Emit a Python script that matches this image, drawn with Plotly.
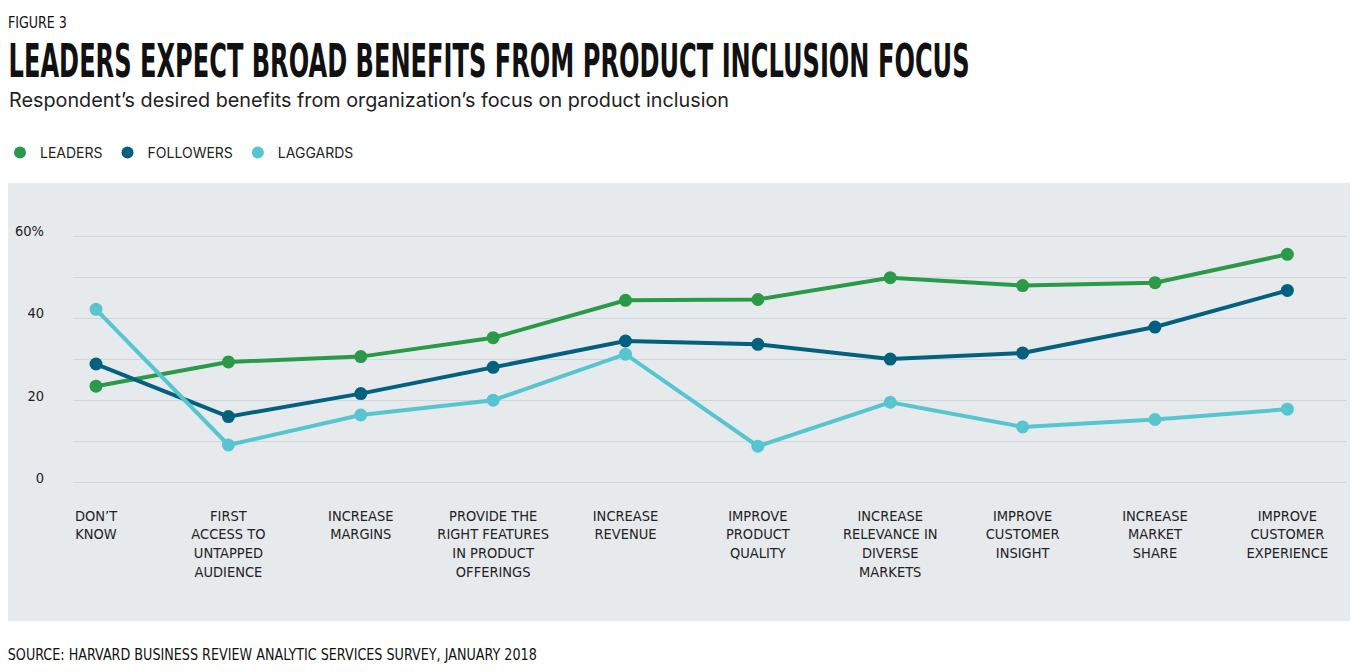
import plotly.graph_objects as go

categories = [
    "DON’T<br>KNOW",
    "FIRST<br>ACCESS TO<br>UNTAPPED<br>AUDIENCE",
    "INCREASE<br>MARGINS",
    "PROVIDE THE<br>RIGHT FEATURES<br>IN PRODUCT<br>OFFERINGS",
    "INCREASE<br>REVENUE",
    "IMPROVE<br>PRODUCT<br>QUALITY",
    "INCREASE<br>RELEVANCE IN<br>DIVERSE<br>MARKETS",
    "IMPROVE<br>CUSTOMER<br>INSIGHT",
    "INCREASE<br>MARKET<br>SHARE",
    "IMPROVE<br>CUSTOMER<br>EXPERIENCE",
]
leaders = [23.5, 29.4, 30.7, 35.3, 44.4, 44.6, 49.9, 48.0, 48.7, 55.6]
followers = [28.9, 16.1, 21.7, 28.1, 34.5, 33.7, 30.1, 31.6, 37.9, 46.8]
laggards = [42.2, 9.2, 16.5, 20.1, 31.3, 8.9, 19.6, 13.6, 15.4, 17.9]
series_names = ["LEADERS", "FOLLOWERS", "LAGGARDS"]
y_tickvals = [0, 10, 20, 30, 40, 50, 60]
y_ticktext = ["0", "", "20", "", "40", "", "60%"]

TITLE = "LEADERS EXPECT BROAD BENEFITS FROM PRODUCT INCLUSION FOCUS"
SUBTITLE = "Respondent’s desired benefits from organization’s focus on product inclusion"
FIGNUM = "FIGURE 3"
SOURCE = "SOURCE: HARVARD BUSINESS REVIEW ANALYTIC SERVICES SURVEY, JANUARY 2018"

colors = ["#2a9a48", "#03607f", "#57c5cf"]

W, H = 1360, 672
L, R = 73, 1346          # plot area pixel edges
T, B = 227.8, 490.9

COND = "DejaVu Sans Condensed, Liberation Sans Narrow, sans-serif"
GROT = "Inter, Open Sans, sans-serif"

def px(x):
    return (x - L) / (R - L)

def py(y):
    return (B - y) / (B - T)

fig = go.Figure()
xs = list(range(len(categories)))
for name, vals, c in zip(series_names, [leaders, followers, laggards], colors):
    fig.add_trace(go.Scatter(
        x=xs, y=vals, mode="lines+markers", name=name,
        line=dict(color=c, width=4), marker=dict(color=c, size=13),
        showlegend=False, cliponaxis=False, hoverinfo="y",
    ))
for name, c in zip(series_names, colors):
    fig.add_trace(go.Scatter(
        x=[None], y=[None], mode="markers", name=name,
        marker=dict(color=c, size=15), showlegend=True,
    ))

# (text, left px, width px, center y px, font size, family, weight, vertical stretch)
squeezed = [
    (FIGNUM, 8, 59, 23, 15, COND, "normal", 1.0),
    (TITLE, 8, 961, 61, 37, COND, "bold", 1.27),
    (SOURCE, 8, 529, 655, 15.5, COND, "normal", 1.0),
]

annotations = []
for text, x0, w, yc, size, fam, wt, _ in squeezed:
    annotations.append(dict(
        text=text, xref="paper", yref="paper", x=px(x0 + w / 2), y=py(yc),
        xanchor="center", yanchor="middle", showarrow=False,
        font=dict(family=fam, size=size, color="#111", weight=wt),
    ))
annotations.append(dict(
    text=SUBTITLE, xref="paper", yref="paper", x=px(7), y=py(100),
    xanchor="left", yanchor="middle", showarrow=False,
    font=dict(family=GROT, size=19.8, color="#222"),
))

fig.update_layout(
    width=W, height=H,
    margin=dict(l=L, r=W - R, t=T, b=H - B, pad=0),
    paper_bgcolor="white", plot_bgcolor="rgba(0,0,0,0)",
    showlegend=True,
    legend=dict(
        orientation="h", xref="container", yref="container",
        x=-0.003, y=1 - 153 / H, xanchor="left", yanchor="middle",
        font=dict(family=GROT, size=14, color="#222"),
        itemsizing="constant", bgcolor="rgba(0,0,0,0)",
    ),
    xaxis=dict(
        range=[-0.174, 9.443], tickmode="array", tickvals=xs, ticktext=categories,
        showgrid=False, zeroline=False, showline=False, ticks="",
        tickfont=dict(family=COND, size=14.5, color="#222"),
        ticklabelstandoff=14, fixedrange=True,
    ),
    yaxis=dict(
        range=[-2, 62], tickmode="array", tickvals=y_tickvals, ticktext=y_ticktext,
        showgrid=True, gridcolor="#d2d5d9", gridwidth=1.3, zeroline=False,
        showline=False, ticks="", ticklabelshift=-5, ticklabelstandoff=28,
        tickfont=dict(family=COND, size=14.5, color="#222"), fixedrange=True,
    ),
    shapes=[dict(
        type="rect", xref="paper", yref="paper", layer="below",
        x0=px(8), x1=px(1350), y0=py(621), y1=py(182.7),
        fillcolor="#e7eaed", line=dict(width=0),
    )],
    annotations=annotations,
)

# Fit the condensed headline texts to the reference widths (and heights)
targets = "{" + ",".join('"%s":[%d,%.3f]' % (t.replace('"', '\\"'), w, s)
                         for t, _, w, *_r, s in squeezed) + "}"
post = """
var T = %s;
function squeeze(){
  document.querySelectorAll('g.annotation text.annotation-text').forEach(function(el){
    var v = T[el.textContent];
    if (!v) return;
    el.setAttribute('textLength', v[0]);
    el.setAttribute('lengthAdjust', 'spacingAndGlyphs');
    if (v[1] !== 1) {
      var bb = el.getBBox();
      var cy = bb.y + bb.height / 2;
      el.setAttribute('transform', 'translate(0,' + cy + ') scale(1,' + v[1] + ') translate(0,' + (-cy) + ')');
    }
  });
}
squeeze();
var gd = document.getElementById('{plot_id}');
if (gd && gd.on) { gd.on('plotly_afterplot', squeeze); }
setTimeout(squeeze, 50); setTimeout(squeeze, 300);
""" % targets

fig.write_html("out.html", post_script=post)
